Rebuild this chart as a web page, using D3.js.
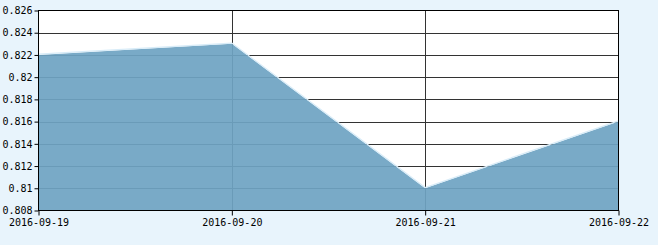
<!DOCTYPE html>
<html><head><meta charset="utf-8">
<script src="https://d3js.org/d3.v7.min.js"></script>
<style>
html,body{margin:0;padding:0;background:#e8f4fc;}
svg{display:block;}
text{font-family:"DejaVu Sans Mono",monospace;font-size:10px;fill:#000;}
</style></head><body>
<svg id="c" width="658" height="245"></svg>
<script>
const categories = ["2016-09-19","2016-09-20","2016-09-21","2016-09-22"];
const values = [0.822, 0.823, 0.810, 0.816];
const yTicks = [0.808,0.81,0.812,0.814,0.816,0.818,0.82,0.822,0.824,0.826];
const yTickLabels = ["0.808","0.81","0.812","0.814","0.816","0.818","0.82","0.822","0.824","0.826"];

const svg = d3.select("#c");
const L = 38.5, R = 618.5, T = 10.5, B = 210.5;
const x = d3.scalePoint().domain(categories).range([L, R]);
const y = d3.scaleLinear().domain([0.808, 0.826]).range([B, T]);

svg.append("rect").attr("x",L).attr("y",T).attr("width",R-L).attr("height",B-T).attr("fill","#fff");

// grid
svg.append("g").selectAll("line.h").data(yTicks.slice(1,-1)).join("line")
  .attr("x1",L).attr("x2",R).attr("y1",d=>Math.round(y(d))+0.5).attr("y2",d=>Math.round(y(d))+0.5)
  .attr("stroke","#333").attr("stroke-width",1);
svg.append("g").selectAll("line.v").data(categories.slice(1,-1)).join("line")
  .attr("y1",T).attr("y2",B).attr("x1",d=>Math.round(x(d))+0.5).attr("x2",d=>Math.round(x(d))+0.5)
  .attr("stroke","#333").attr("stroke-width",1);

// area
const area = d3.area().x((d,i)=>x(categories[i])).y0(B).y1(d=>y(d));
svg.append("path").datum(values).attr("d",area).attr("fill","#6fa4c3").attr("fill-opacity",0.93);
const line = d3.line().x((d,i)=>x(categories[i])).y(d=>y(d));
svg.append("path").datum(values).attr("d",line).attr("fill","none").attr("stroke","#d8ecf8").attr("stroke-width",1.2).attr("transform","translate(0,-0.8)");

// frame
svg.append("rect").attr("x",L).attr("y",T).attr("width",R-L).attr("height",B-T).attr("fill","none").attr("stroke","#000");

// axes
const yAxis = d3.axisLeft(y).tickValues(yTicks).tickFormat((d,i)=>yTickLabels[i]).tickSize(4).tickPadding(2);
const gy = svg.append("g").attr("transform",`translate(${L},0)`).call(yAxis);
gy.select(".domain").remove();
gy.selectAll("line").attr("stroke","#000");
gy.selectAll("text").attr("font-family","DejaVu Sans Mono").attr("font-size","10.5px");

const xAxis = d3.axisBottom(x).tickSize(5).tickPadding(3);
const gx = svg.append("g").attr("transform",`translate(0,${B})`).call(xAxis);
gx.select(".domain").remove();
gx.selectAll("line").attr("stroke","#000");
gx.selectAll("text").attr("font-family","DejaVu Sans Mono").attr("font-size","10px");
</script>
</body></html>
